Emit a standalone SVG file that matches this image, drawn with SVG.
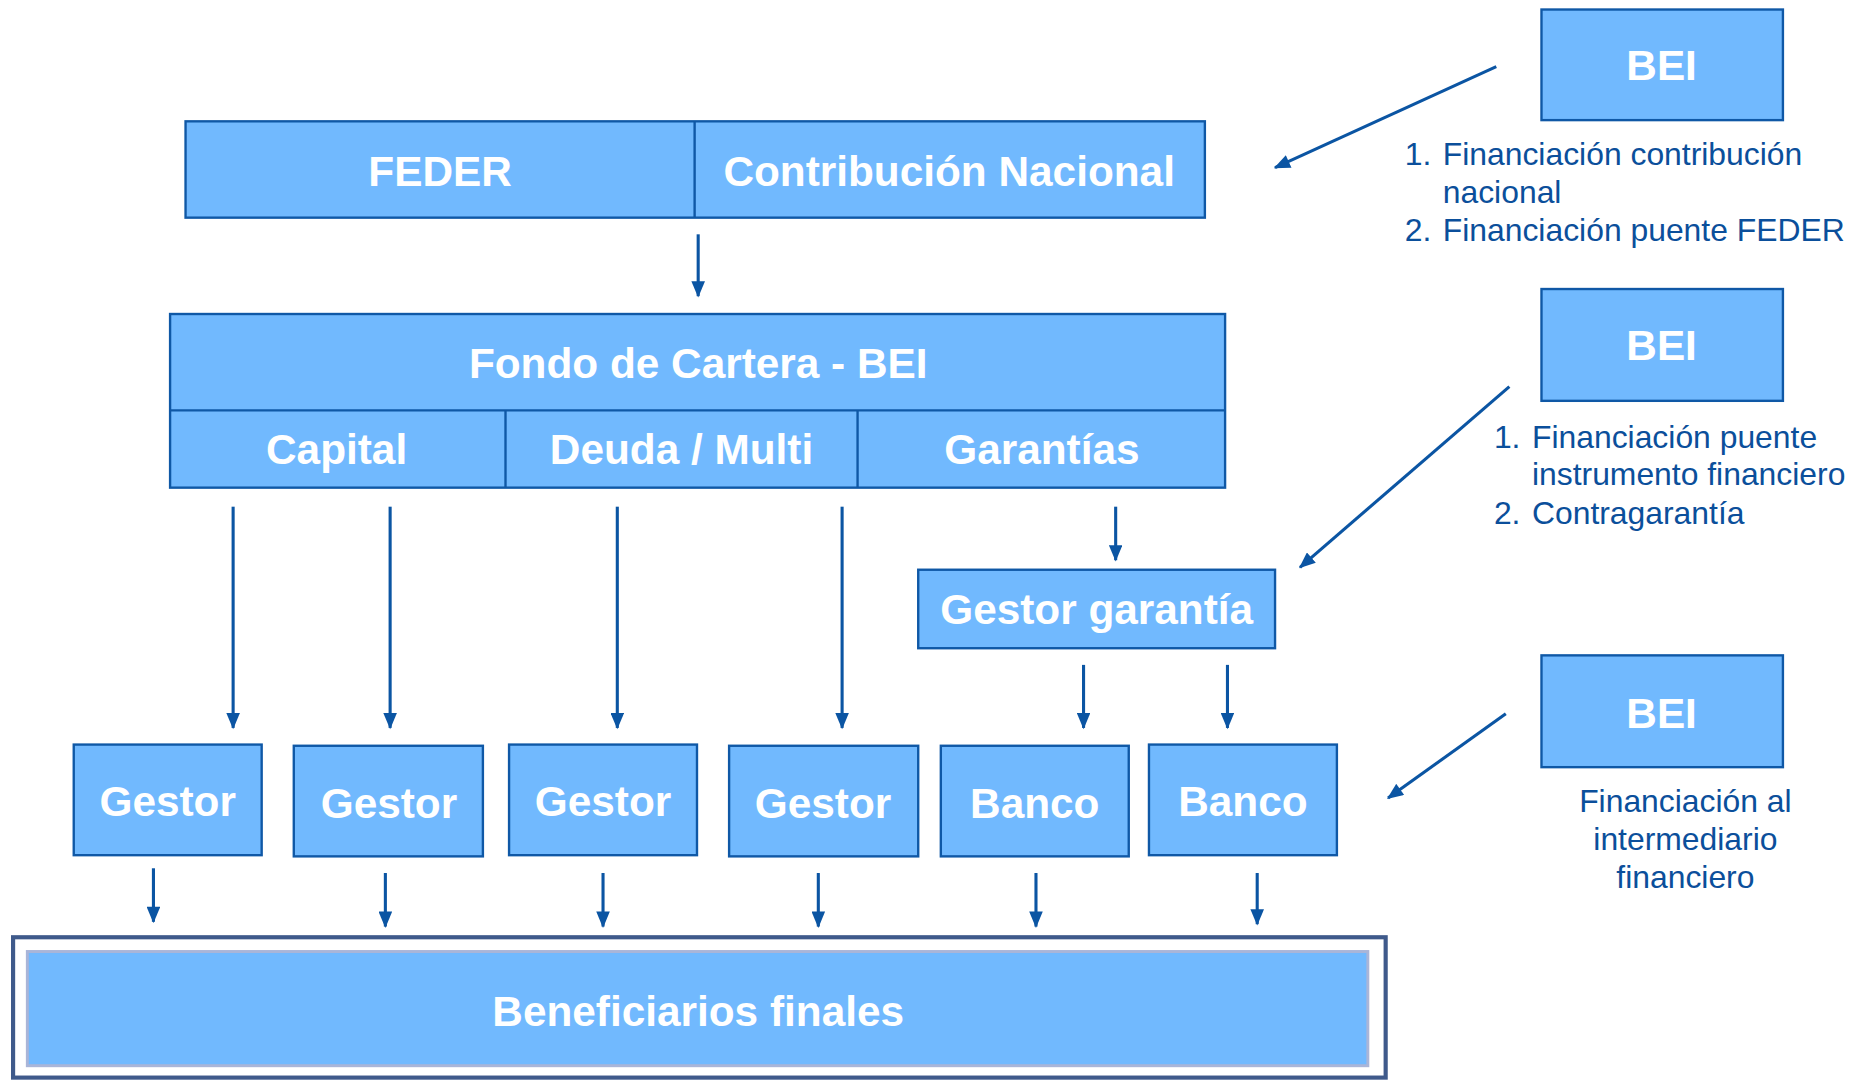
<svg xmlns="http://www.w3.org/2000/svg" width="1865" height="1080" viewBox="0 0 1865 1080">
<defs>
<style>
.box{fill:#71B9FE;stroke:#0F58A6;stroke-width:2}
.div{stroke:#0F58A6;stroke-width:2;fill:none}
.t{font-family:"Liberation Sans",Arial,sans-serif;font-weight:bold;font-size:35.6px;fill:#FFFFFF;text-anchor:middle}
.n{font-family:"Liberation Sans",Arial,sans-serif;font-size:26.8px;fill:#0B4F9B}
.c{text-anchor:middle}
.ar{stroke:#0B55A3;stroke-width:2.6;fill:none;marker-end:url(#ah)}
</style>
<marker id="ah" viewBox="0 0 12 10" refX="11" refY="5" markerWidth="5.5" markerHeight="4.4" orient="auto" markerUnits="strokeWidth">
<path d="M0,0 L12,5 L0,10 Z" fill="#0B55A3"/>
</marker>
</defs>
<rect width="1865" height="1080" fill="#FFFFFF"/>
<g transform="scale(1.18941)">
<g id="feder-contribucion">
<rect class="box" x="156" y="102" width="857" height="81"/>
<line class="div" x1="584" y1="102" x2="584" y2="183"/>
<text class="t" x="370" y="156.5">FEDER</text>
<text class="t" x="798" y="156.5">Contribución Nacional</text>
</g>
<g id="fondo-cartera">
<rect class="box" x="143" y="264" width="887" height="146"/>
<line class="div" x1="143" y1="345" x2="1030" y2="345"/>
<line class="div" x1="425" y1="345" x2="425" y2="410"/>
<line class="div" x1="721" y1="345" x2="721" y2="410"/>
<text class="t" x="587" y="317.5">Fondo de Cartera - BEI</text>
<text class="t" x="283" y="390.5">Capital</text>
<text class="t" x="573" y="390.5">Deuda / Multi</text>
<text class="t" x="876" y="390.5">Garantías</text>
</g>
<g id="gestor-garantia">
<rect class="box" x="772" y="479" width="300" height="66"/>
<text class="t" x="922" y="524.5">Gestor garantía</text>
</g>
<g id="gestor1"><rect class="box" x="62" y="626" width="158" height="93"/><text class="t" x="141" y="686">Gestor</text></g>
<g id="gestor2"><rect class="box" x="247" y="627" width="159" height="93"/><text class="t" x="327" y="688">Gestor</text></g>
<g id="gestor3"><rect class="box" x="428" y="626" width="158" height="93"/><text class="t" x="507" y="686">Gestor</text></g>
<g id="gestor4"><rect class="box" x="613" y="627" width="159" height="93"/><text class="t" x="692" y="688">Gestor</text></g>
<g id="banco1"><rect class="box" x="791" y="627" width="158" height="93"/><text class="t" x="870" y="688">Banco</text></g>
<g id="banco2"><rect class="box" x="966" y="626" width="158" height="93"/><text class="t" x="1045" y="686">Banco</text></g>
<g id="beneficiarios">
<rect x="11" y="788" width="1154" height="118" fill="#FFFFFF" stroke="#3F5A8B" stroke-width="3.5"/>
<rect x="23" y="800" width="1127" height="96" fill="#71B9FE" stroke="#A9B5D8" stroke-width="2.5"/>
<text class="t" x="587" y="862.5">Beneficiarios finales</text>
</g>
<g id="bei1">
<rect class="box" x="1296" y="8" width="203" height="93"/>
<text class="t" x="1397" y="67">BEI</text>
<text class="n" x="1181" y="138.5">1.</text>
<text class="n" x="1213" y="138.5">Financiación contribución</text>
<text class="n" x="1213" y="170.5">nacional</text>
<text class="n" x="1181" y="202.5">2.</text>
<text class="n" x="1213" y="202.5">Financiación puente FEDER</text>
</g>
<g id="bei2">
<rect class="box" x="1296" y="243" width="203" height="94"/>
<text class="t" x="1397" y="303">BEI</text>
<text class="n" x="1256" y="376.5">1.</text>
<text class="n" x="1288" y="376.5">Financiación puente</text>
<text class="n" x="1288" y="407.5">instrumento financiero</text>
<text class="n" x="1256" y="440.5">2.</text>
<text class="n" x="1288" y="440.5">Contragarantía</text>
</g>
<g id="bei3">
<rect class="box" x="1296" y="551" width="203" height="94"/>
<text class="t" x="1397" y="612">BEI</text>
<text class="n c" x="1417" y="682.5">Financiación al</text>
<text class="n c" x="1417" y="714.5">intermediario</text>
<text class="n c" x="1417" y="746.5">financiero</text>
</g>
<g id="connectors">
<line class="ar" x1="587" y1="197" x2="587" y2="249"/>
<line class="ar" x1="196" y1="426" x2="196" y2="612"/>
<line class="ar" x1="328" y1="426" x2="328" y2="612"/>
<line class="ar" x1="519" y1="426" x2="519" y2="612"/>
<line class="ar" x1="708" y1="426" x2="708" y2="612"/>
<line class="ar" x1="938" y1="426" x2="938" y2="471"/>
<line class="ar" x1="911" y1="559" x2="911" y2="612"/>
<line class="ar" x1="1032" y1="559" x2="1032" y2="612"/>
<line class="ar" x1="129" y1="730" x2="129" y2="775"/>
<line class="ar" x1="324" y1="734" x2="324" y2="779"/>
<line class="ar" x1="507" y1="734" x2="507" y2="779"/>
<line class="ar" x1="688" y1="734" x2="688" y2="779"/>
<line class="ar" x1="871" y1="734" x2="871" y2="779"/>
<line class="ar" x1="1057" y1="734" x2="1057" y2="777"/>
<line class="ar" x1="1258" y1="56" x2="1072" y2="141"/>
<line class="ar" x1="1269" y1="325" x2="1093" y2="477"/>
<line class="ar" x1="1266" y1="600" x2="1167" y2="671"/>
</g>
</g>
</svg>
